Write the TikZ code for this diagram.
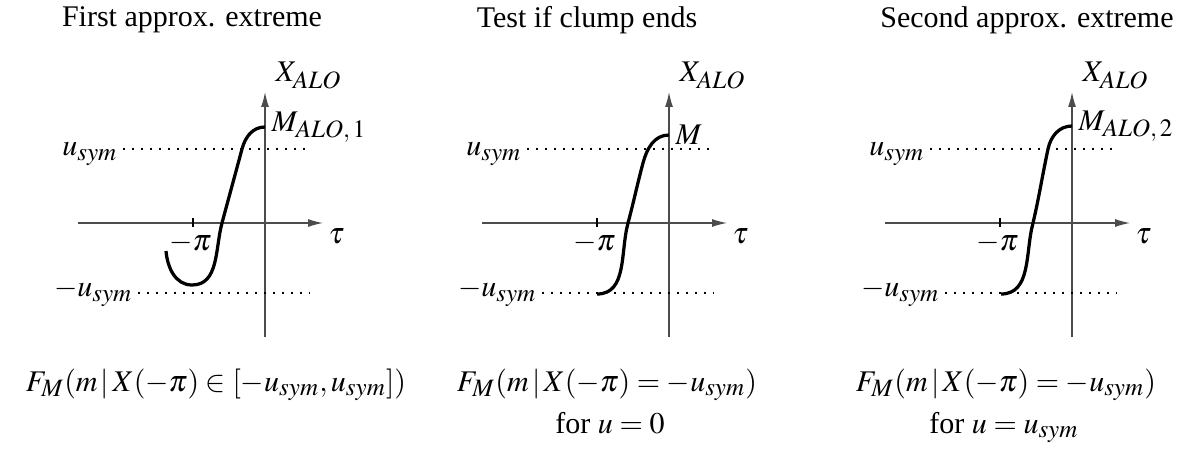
\documentclass[tikz,border=0pt]{standalone}
\usepackage{mathptmx}
\usepackage{fontspec}
\setmainfont{Liberation Serif}
\usetikzlibrary{arrows.meta}
\tikzset{
  axis/.style={draw=black!70, line width=0.5pt, -{Latex[length=6pt,width=3.2pt]}},
  level/.style={line width=0.6pt, dash pattern=on 0.6pt off 3pt},
  curve/.style={line width=1.3pt},
  lbl/.style={inner sep=2pt, font=\fontsize{12}{14}\selectfont},
}
\newcommand{\lowidx}[1]{_{\mbox{\fontsize{10}{11}\selectfont$#1$}}}

\begin{document}
\begin{tikzpicture}[x=0.4pt,y=0.4pt]
  \useasboundingbox (0,0) rectangle (1177,-452);

  % axes and levels, the same in all three panels
  \foreach \px/\nm in {265/a,669/b,1072/c}{
    \begin{scope}[shift={(\px,-223)}]
      \draw[axis] (-187,0) -- (58,0) node[lbl, below right] (tau-\nm) {$\tau$};
      \draw[axis] (0,-114) -- (0,131)
        node[lbl, anchor=south west, inner sep=1pt, xshift=3pt] (x-\nm) {$X\lowidx{ALO}$};
      \draw[line width=0.5pt] (-72,5) -- (-72,-4)
        node[lbl, below, xshift=-1pt] (pi-\nm) {$-\pi$};
      \draw[level] (-142,74) -- (45,74);
      \draw[level] (-127,-70) -- (45,-70);
      \node[lbl, left, yshift=-2pt] (us-\nm) at (-142,74) {$u\lowidx{sym}$};
      \node[lbl, left] (mus-\nm) at (-127,-70) {$-u\lowidx{sym}$};
    \end{scope}
  }

  % first panel
  \begin{scope}[shift={(265,-223)}]
    \draw[curve] (-99,-28) to[out=-85,in=180] (-73,-62) to[out=0,in=-105] (-43,0)
      to[out=75,in=-105] (-23,74) to[out=75,in=180] (0,96)
      node[lbl, right] (m-a) {$M\lowidx{ALO,1}$};
  \end{scope}

  % second panel
  \begin{scope}[shift={(669,-223)}]
    \draw[curve] (-72,-71) to[out=0,in=-105] (-41,0)
      to[out=75,in=-105] (-26,60) to[out=75,in=180] (0,88)
      node[lbl, right] (m-b) {$M$};
  \end{scope}

  % third panel
  \begin{scope}[shift={(1072,-223)}]
    \draw[curve] (-71,-71) to[out=0,in=-105] (-39,0)
      to[out=77,in=-102] (-24,74) to[out=78,in=180] (0,97)
      node[lbl, right] (m-c) {$M\lowidx{ALO,2}$};
  \end{scope}

  % titles
  \node[lbl] (t-a) at (192,-20) {First approx. extreme};
  \node[lbl] (t-b) at (587,-20) {Test if clump ends};
  \node[lbl] (t-c) at (1027,-20) {Second approx. extreme};

  % distributions
  \node[lbl, anchor=base] (f-a) at (216,-391)
    {$F\lowidx{M}(m\,|\,X(-\pi)\in[-u\lowidx{sym},u\lowidx{sym}])$};
  \node[lbl, anchor=base] (f-b) at (607,-391)
    {$F\lowidx{M}(m\,|\,X(-\pi)=-u\lowidx{sym})$};
  \node[lbl, anchor=base] (u-b) at (610,-433) {for $u=0$};
  \node[lbl, anchor=base] (f-c) at (1006,-391)
    {$F\lowidx{M}(m\,|\,X(-\pi)=-u\lowidx{sym})$};
  \node[lbl, anchor=base] (u-c) at (1004,-433) {for $u=u\lowidx{sym}$};
\end{tikzpicture}
\end{document}
